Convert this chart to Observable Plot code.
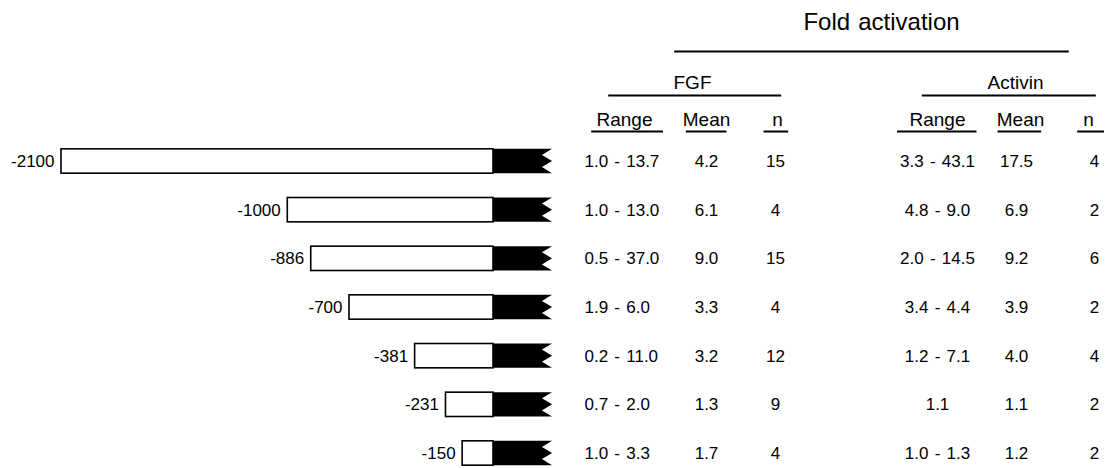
<!DOCTYPE html>
<html><head><meta charset="utf-8">
<script src="https://cdn.jsdelivr.net/npm/d3@7"></script>
<script src="https://cdn.jsdelivr.net/npm/@observablehq/plot@0.6"></script>
<style>
body{margin:0;background:#fff}
#chart{display:flex;width:1107px;height:468px;overflow:hidden}
#chart svg{flex:none}
</style>
</head><body><div id="chart"></div>
<script>
// ---- data ----
const constructs = ["-2100", "-1000", "-886", "-700", "-381", "-231", "-150"];
const promoterStart = [-2100, -1000, -886, -700, -381, -231, -150];
const fgfRange = ["1.0 - 13.7", "1.0 - 13.0", "0.5 - 37.0", "1.9 - 6.0", "0.2 - 11.0", "0.7 - 2.0", "1.0 - 3.3"];
const fgfMean = ["4.2", "6.1", "9.0", "3.3", "3.2", "1.3", "1.7"];
const fgfN = ["15", "4", "15", "4", "12", "9", "4"];
const activinRange = ["3.3 - 43.1", "4.8 - 9.0", "2.0 - 14.5", "3.4 - 4.4", "1.2 - 7.1", "1.1", "1.0 - 1.3"];
const activinMean = ["17.5", "6.9", "9.2", "3.9", "4.0", "1.1", "1.2"];
const activinN = ["4", "2", "6", "2", "4", "2", "2"];
const columns = ["fRange", "fMean", "fN", "gap", "aRange", "aMean", "aN"];

// reporter (black box) extent in bp past the start site
const reporterBody = 238, reporterTooth = 287;

const rows = constructs.map((label, i) => ({
  i, label, start: promoterStart[i],
  fr: fgfRange[i], fm: fgfMean[i], fn: fgfN[i],
  ar: activinRange[i], am: activinMean[i], an: activinN[i]
}));

// jagged reporter outline: 3 teeth per bar
const toothOffsets = [-0.25, -0.125, 0, 0.125, 0.25];
const teeth = rows.flatMap(r => toothOffsets.map((o, k) => ({
  i: r.i, y: r.i + o, x: k % 2 === 0 ? reporterTooth : reporterBody
})));

const font = "'Liberation Sans', Arial, Helvetica, sans-serif";
const style = {fontFamily: font, fontSize: "17px", color: "black", background: "white", overflow: "visible"};
const yScale = {type: "linear", domain: [0, 6], range: [161, 453], axis: null};
// header rows, in row units above the first construct
const hr = {title: -2.866, groupLine: -2.26, group: -1.623, groupRule: -1.356, sub: -0.863, subRule: -0.616};

const left = Plot.plot({
  width: 560, height: 468, margin: 0,
  x: {domain: [-2100, 0], range: [61, 493], axis: null},
  y: yScale,
  style,
  marks: [
    Plot.rect(rows, {x1: "start", x2: 0, y1: d => d.i - 0.25, y2: d => d.i + 0.25, fill: "white", stroke: "black", strokeWidth: 1.6}),
    Plot.areaX(teeth, {y: "y", x1: 0, x2: "x", z: "i", fill: "black", curve: "linear"}),
    Plot.text(rows, {x: "start", y: "i", text: "label", textAnchor: "end", dx: -7, fill: "black"})
  ]
});

const T = (v) => () => v;
const rule = {strokeWidth: 2, stroke: "black"};
const head = {fontSize: 19, fill: "black"};
const right = Plot.plot({
  width: 547, height: 468, margin: 0,
  x: {type: "band", domain: columns, range: [23.83, 572.17], padding: 0, axis: null},
  y: yScale,
  style: {...style, wordSpacing: "1.5px"},
  marks: [
    // headers
    Plot.text([0], {x: T("gap"), y: T(hr.title), text: T("Fold activation"), fontSize: 24, dx: 23, fill: "black"}),
    Plot.ruleY([hr.groupLine], {x1: T("fRange"), x2: T("aN"), insetLeft: 89.2, insetRight: 62.2, ...rule}),
    Plot.text([0], {x: T("fMean"), y: T(hr.group), text: T("FGF"), dx: -10, ...head}),
    Plot.text([0], {x: T("aMean"), y: T(hr.group), text: T("Activin"), dx: 1, ...head}),
    Plot.ruleY([hr.groupRule], {x1: T("fRange"), x2: T("fN"), insetLeft: 23.2, insetRight: 37.8, ...rule}),
    Plot.ruleY([hr.groupRule], {x1: T("aRange"), x2: T("aN"), insetLeft: 24.8, insetRight: 35.2, ...rule}),
    Plot.text([0], {x: T("fRange"), y: T(hr.sub), text: T("Range"), dx: 0, ...head}),
    Plot.text([0], {x: T("fMean"), y: T(hr.sub), text: T("Mean"), dx: 4, ...head}),
    Plot.text([0], {x: T("fN"), y: T(hr.sub), text: T("n"), dx: -3, ...head}),
    Plot.text([0], {x: T("aRange"), y: T(hr.sub), text: T("Range"), dx: 1, ...head}),
    Plot.text([0], {x: T("aMean"), y: T(hr.sub), text: T("Mean"), dx: 6, ...head}),
    Plot.text([0], {x: T("aN"), y: T(hr.sub), text: T("n"), dx: -4, ...head}),
    Plot.tickY([hr.subRule], {x: T("fRange"), insetLeft: 6.2, insetRight: 0, ...rule}),
    Plot.tickY([hr.subRule], {x: T("fMean"), insetLeft: 22.8, insetRight: 14.5, ...rule}),
    Plot.tickY([hr.subRule], {x: T("fN"), insetLeft: 22.5, insetRight: 30.8, ...rule}),
    Plot.tickY([hr.subRule], {x: T("aRange"), insetLeft: 0, insetRight: -1.5, ...rule}),
    Plot.tickY([hr.subRule], {x: T("aMean"), insetLeft: 22.5, insetRight: 11.8, ...rule}),
    Plot.tickY([hr.subRule], {x: T("aN"), insetLeft: 24.2, insetRight: 27, ...rule}),
    // table cells
    Plot.text(rows, {x: T("fRange"), y: "i", text: "fr", textAnchor: "start", dx: -40, fill: "black"}),
    Plot.text(rows, {x: T("fMean"), y: "i", text: "fm", dx: 4, fill: "black"}),
    Plot.text(rows, {x: T("fN"), y: "i", text: "fn", dx: -5, fill: "black"}),
    Plot.text(rows, {x: T("aRange"), y: "i", text: "ar", dx: 1, fill: "black"}),
    Plot.text(rows, {x: T("aMean"), y: "i", text: "am", dx: 2, fill: "black"}),
    Plot.text(rows, {x: T("aN"), y: "i", text: "an", dx: 2, fill: "black"})
  ]
});

document.getElementById("chart").append(left, right);
</script>
</body></html>
